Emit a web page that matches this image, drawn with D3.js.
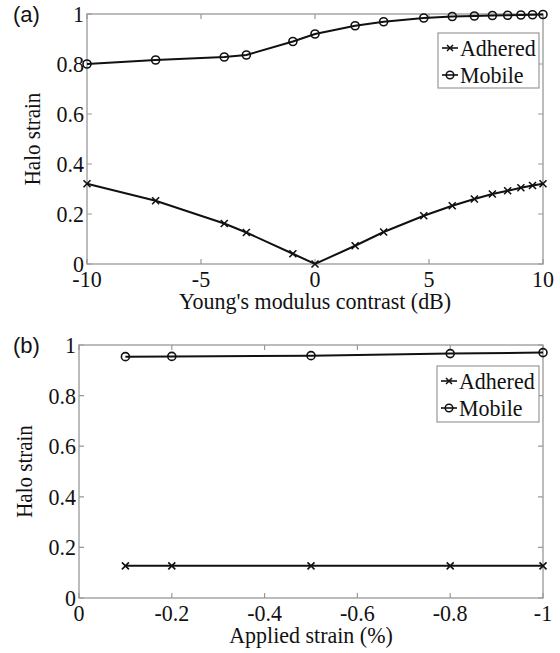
<!DOCTYPE html>
<html>
<head>
<meta charset="utf-8">
<script src="https://cdn.jsdelivr.net/npm/d3@7"></script>
<style>
  body { margin: 0; background: #fff; }
</style>
</head>
<body>
<div id="chart-area"></div>
<script>
// Panel (a): Young's modulus contrast (dB)
var contrastDb = [-10, -6.99, -3.98, -3.01, -0.97, 0, 1.76, 3.01, 4.77, 6.02, 6.99, 7.78, 8.45, 9.03, 9.54, 10];
var adheredA = [0.321, 0.253, 0.162, 0.126, 0.041, 0, 0.073, 0.128, 0.193, 0.233, 0.26, 0.28, 0.293, 0.305, 0.314, 0.321];
var mobileA = [0.800, 0.816, 0.828, 0.836, 0.890, 0.920, 0.953, 0.969, 0.984, 0.990, 0.992, 0.994, 0.995, 0.996, 0.997, 0.998];
var xTicksA = [-10, -5, 0, 5, 10];

// Panel (b): applied strain (%)
var appliedStrain = [-0.1, -0.2, -0.5, -0.8, -1];
var adheredB = [0.127, 0.127, 0.127, 0.127, 0.127];
var mobileB = [0.954, 0.955, 0.958, 0.966, 0.970];
var xTicksB = [0, -0.2, -0.4, -0.6, -0.8, -1];

var yTicks = [0, 0.2, 0.4, 0.6, 0.8, 1];
var seriesNames = ["Adhered", "Mobile"];

var serif = "'Liberation Serif', 'Times New Roman', Times, serif";
var sans = "'Liberation Sans', Arial, Helvetica, sans-serif";

// the scanned figure is a bit taller than wide, so text is stretched a little
var kY = 1.08;

var svg = d3.select("#chart-area")
	.append("svg")
		.attr("width", 560)
		.attr("height", 653);

var axisColor = "#999";

function place(x, y, extra) {
	return "translate(" + x + "," + y + ")" + (extra || "") + " scale(1," + kY + ")";
}

function drawPanel(opt) {
	var x = d3.scaleLinear().domain(opt.xDomain).range([opt.left, opt.right]);
	var y = d3.scaleLinear().domain([0, 1]).range([opt.bottom, opt.top]);

	var g = svg.append("g")
		.attr("font-family", serif)
		.attr("fill", "#111");

	// frame
	g.append("rect")
		.attr("x", opt.left).attr("y", opt.top)
		.attr("width", opt.right - opt.left).attr("height", opt.bottom - opt.top)
		.attr("fill", "none").attr("stroke", axisColor).attr("stroke-width", 1.3);

	// inward ticks on all four sides
	var tl = 5;
	g.selectAll(".xt").data(opt.xTicks).enter().append("path")
		.attr("d", function(d) {
			return "M" + x(d) + "," + opt.bottom + "v" + (-tl) +
				"M" + x(d) + "," + opt.top + "v" + tl;
		})
		.attr("stroke", axisColor).attr("stroke-width", 1.2);
	g.selectAll(".yt").data(yTicks).enter().append("path")
		.attr("d", function(d) {
			return "M" + opt.left + "," + y(d) + "h" + tl +
				"M" + opt.right + "," + y(d) + "h" + (-tl);
		})
		.attr("stroke", axisColor).attr("stroke-width", 1.2);

	// tick labels
	g.selectAll(".xl").data(opt.xTicks).enter().append("text")
		.attr("transform", function(d) { return place(x(d), opt.bottom + 23); })
		.attr("text-anchor", "middle")
		.attr("font-size", 22)
		.text(function(d) { return String(d); });
	g.selectAll(".yl").data(yTicks).enter().append("text")
		.attr("transform", function(d) { return place(opt.left - 3, y(d) + 8); })
		.attr("text-anchor", "end")
		.attr("font-size", 22)
		.text(function(d) { return d; });

	// axis labels
	g.append("text")
		.attr("transform", place((opt.left + opt.right) / 2, opt.bottom + 45))
		.attr("text-anchor", "middle")
		.attr("font-size", 22)
		.text(opt.xLabel);
	g.append("text")
		.attr("transform", "translate(" + (opt.left - 47) + "," + ((opt.top + opt.bottom) / 2) + ") rotate(-90) scale(1.0," + kY + ")")
		.attr("text-anchor", "middle")
		.attr("font-size", 21)
		.text("Halo strain");

	// panel tag
	g.append("text")
		.attr("font-family", sans)
		.attr("x", 13)
		.attr("y", opt.top + 8)
		.attr("font-size", 22)
		.text(opt.tag);

	var line = d3.line()
		.x(function(d) { return x(d[0]); })
		.y(function(d) { return y(d[1]); });

	var adh = d3.zip(opt.xs, opt.adhered);
	var mob = d3.zip(opt.xs, opt.mobile);

	[adh, mob].forEach(function(pts) {
		g.append("path")
			.datum(pts)
			.attr("d", line)
			.attr("fill", "none")
			.attr("stroke", "#111")
			.attr("stroke-width", 2);
	});

	g.selectAll(".cross").data(adh).enter().append("path")
		.attr("d", function(d) { return crossPath(x(d[0]), y(d[1]), 3.5); })
		.attr("stroke", "#111").attr("stroke-width", 1.6);

	g.selectAll(".circ").data(mob).enter().append("circle")
		.attr("cx", function(d) { return x(d[0]); })
		.attr("cy", function(d) { return y(d[1]); })
		.attr("r", 4)
		.attr("fill", "none")
		.attr("stroke", "#111").attr("stroke-width", 1.6);

	// legend
	var lg = opt.legend;
	g.append("rect")
		.attr("x", lg.x).attr("y", lg.y)
		.attr("width", lg.w).attr("height", lg.h)
		.attr("fill", "#fff").attr("stroke", axisColor).attr("stroke-width", 1.2);
	seriesNames.forEach(function(name, i) {
		var cy = lg.y + 15 + i * 27;
		var sx = lg.x + 4, ex = lg.x + 20, mx = (sx + ex) / 2;
		g.append("path")
			.attr("d", "M" + sx + "," + cy + "H" + ex)
			.attr("stroke", "#111").attr("stroke-width", 1.6);
		if (i === 0) {
			g.append("path").attr("d", crossPath(mx, cy, 3))
				.attr("stroke", "#111").attr("stroke-width", 1.5);
		} else {
			g.append("circle").attr("cx", mx).attr("cy", cy).attr("r", 3.8)
				.attr("fill", "none").attr("stroke", "#111").attr("stroke-width", 1.5);
		}
		g.append("text")
			.attr("transform", place(lg.x + 22, cy + 8))
			.attr("font-size", 22)
			.text(name);
	});
}

function crossPath(cx, cy, s) {
	return "M" + (cx - s) + "," + (cy - s) + "L" + (cx + s) + "," + (cy + s) +
		"M" + (cx - s) + "," + (cy + s) + "L" + (cx + s) + "," + (cy - s);
}

drawPanel({
	tag: "(a)",
	left: 87, right: 543, top: 14, bottom: 264,
	xDomain: [-10, 10], xTicks: xTicksA,
	xs: contrastDb, adhered: adheredA, mobile: mobileA,
	xLabel: "Young's modulus contrast (dB)",
	legend: { x: 438, y: 33, w: 101, h: 55 }
});

drawPanel({
	tag: "(b)",
	left: 79, right: 543, top: 345, bottom: 598,
	xDomain: [0, -1], xTicks: xTicksB,
	xs: appliedStrain, adhered: adheredB, mobile: mobileB,
	xLabel: "Applied strain (%)",
	legend: { x: 437, y: 366, w: 102, h: 56 }
});
</script>
</body>
</html>
